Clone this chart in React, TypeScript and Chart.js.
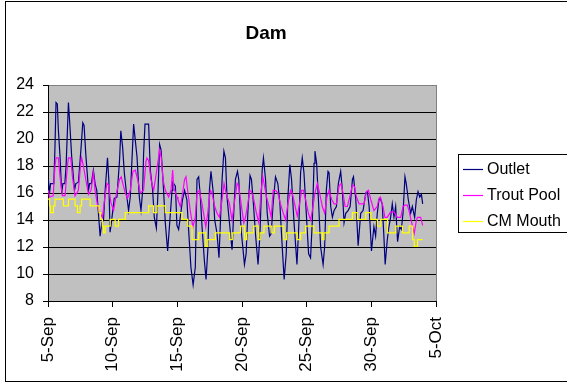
import { useEffect, useRef } from "react";
import { Chart, registerables } from "chart.js";

Chart.register(...registerables);

const TITLE = "Dam";
const SERIES_NAMES = ["Outlet", "Trout Pool", "CM Mouth"];
const SERIES_COLORS = ["#000080", "#FF00FF", "#FFFF00"];
const X_TICK_LABELS = ["5-Sep", "10-Sep", "15-Sep", "20-Sep", "25-Sep", "30-Sep", "5-Oct"];
const X_MIN = 0;
const X_MAX = 30;
const X_STEP = 5;
const Y_MIN = 8;
const Y_MAX = 24;
const Y_STEP = 2;

// [days after 5-Sep, temperature]
const outletReadings: [number, number][] = [
  [0.03, 17.0], [0.12, 16.0], [0.2, 16.7], [0.45, 16.7], [0.54, 19.4], [0.62, 22.7], [0.72, 22.6], [0.8, 20.7],
  [0.93, 18.7], [1.06, 16.0], [1.15, 16.7], [1.3, 16.7], [1.4, 18.0], [1.58, 22.7], [1.68, 21.2], [1.83, 18.7],
  [2.05, 16.2], [2.15, 16.7], [2.35, 16.8], [2.56, 19.4], [2.69, 21.2], [2.79, 21.0], [2.92, 18.9], [3.13, 16.2],
  [3.22, 16.7], [3.35, 16.7], [3.51, 17.7], [3.64, 16.7], [3.77, 16.2], [3.9, 14.5], [4.03, 12.8], [4.16, 13.8],
  [4.29, 14.0], [4.42, 16.2], [4.6, 18.6], [4.7, 17.0], [4.8, 13.1], [4.9, 13.8], [5.12, 15.6], [5.33, 15.7],
  [5.53, 18.4], [5.63, 20.6], [5.77, 19.4], [5.9, 17.5], [6.1, 15.7], [6.23, 14.7], [6.36, 15.7], [6.49, 18.4],
  [6.62, 21.1], [6.75, 19.9], [6.88, 18.7], [7.06, 15.7], [7.19, 14.7], [7.32, 16.2], [7.39, 18.9], [7.5, 21.1],
  [7.78, 21.1], [7.91, 17.7], [8.09, 16.2], [8.22, 14.2], [8.38, 13.4], [8.51, 16.2], [8.63, 19.6], [8.74, 19.2],
  [8.89, 17.0], [9.07, 13.8], [9.25, 11.7], [9.41, 13.8], [9.59, 16.2], [9.65, 16.8], [9.85, 16.5], [9.97, 13.6],
  [10.1, 13.3], [10.2, 14.0], [10.4, 15.5], [10.56, 16.2], [10.74, 15.5], [10.87, 13.3], [11.05, 10.5], [11.22, 9.2],
  [11.39, 10.5], [11.52, 17.0], [11.65, 17.2], [11.78, 15.7], [11.91, 13.5], [12.09, 11.0], [12.22, 9.6], [12.37, 12.0],
  [12.48, 16.2], [12.6, 17.6], [12.76, 16.2], [12.89, 14.0], [13.07, 13.0], [13.22, 11.2], [13.33, 13.8], [13.46, 17.0],
  [13.6, 19.1], [13.72, 18.6], [13.84, 15.7], [14.03, 13.8], [14.23, 11.8], [14.36, 14.5], [14.49, 17.0], [14.65, 17.6],
  [14.75, 17.0], [14.93, 13.3], [15.19, 10.7], [15.32, 11.5], [15.45, 14.5], [15.62, 17.3], [15.73, 17.0], [15.86, 15.5],
  [16.04, 13.0], [16.24, 10.7], [16.38, 12.8], [16.56, 17.7], [16.66, 18.6], [16.82, 17.0], [16.95, 14.5], [17.13, 12.8],
  [17.26, 13.0], [17.39, 15.0], [17.59, 17.2], [17.77, 16.7], [17.93, 15.2], [18.11, 12.0], [18.26, 9.6], [18.42, 11.5],
  [18.55, 15.7], [18.7, 18.1], [18.83, 17.0], [19.01, 14.0], [19.25, 10.7], [19.4, 13.8], [19.53, 17.5], [19.66, 18.6],
  [19.79, 17.5], [19.97, 14.5], [20.15, 11.5], [20.3, 11.2], [20.44, 14.0], [20.57, 18.2], [20.64, 19.1], [20.77, 18.2],
  [20.9, 15.7], [21.08, 12.0], [21.27, 10.7], [21.39, 12.0], [21.52, 16.2], [21.65, 17.6], [21.73, 17.5], [21.86, 15.0],
  [21.99, 14.2], [22.12, 14.7], [22.3, 15.0], [22.45, 16.7], [22.63, 17.6], [22.76, 16.2], [22.89, 13.8], [23.02, 14.5],
  [23.2, 14.7], [23.36, 15.0], [23.54, 17.0], [23.62, 17.2], [23.8, 15.5], [23.98, 12.1], [24.18, 14.5], [24.36, 14.7],
  [24.57, 16.0], [24.7, 16.1], [24.83, 15.0], [25.01, 11.7], [25.2, 13.5], [25.33, 12.8], [25.46, 14.5], [25.59, 15.5],
  [25.68, 15.6], [25.84, 15.2], [25.97, 12.8], [26.07, 10.7], [26.23, 12.5], [26.36, 13.5], [26.49, 14.2], [26.62, 15.2],
  [26.75, 14.2], [26.88, 15.0], [27.03, 12.4], [27.19, 13.5], [27.32, 13.3], [27.45, 14.5], [27.6, 17.2], [27.7, 16.7],
  [27.86, 15.5], [28.04, 14.5], [28.17, 15.0], [28.35, 14.2], [28.48, 15.5], [28.61, 16.1], [28.74, 15.7], [28.87, 15.9],
  [28.97, 15.2],
];

const troutPoolReadings: [number, number][] = [
  [0.03, 16.2], [0.12, 15.7], [0.4, 15.8], [0.54, 18.0], [0.62, 18.6], [0.8, 18.6], [0.93, 17.2], [1.11, 15.8],
  [1.32, 15.8], [1.5, 18.0], [1.58, 18.6], [1.76, 18.6], [1.89, 17.2], [2.09, 15.8], [2.35, 16.2], [2.53, 18.2],
  [2.6, 18.6], [2.74, 18.0], [2.92, 17.0], [3.13, 15.9], [3.33, 16.2], [3.51, 17.5], [3.64, 16.2], [3.85, 15.0],
  [4.03, 14.5], [4.21, 14.2], [4.37, 15.5], [4.55, 16.7], [4.68, 16.6], [4.86, 15.3], [5.07, 14.7], [5.28, 15.9],
  [5.53, 17.0], [5.66, 17.2], [5.79, 16.7], [5.97, 16.0], [6.15, 15.6], [6.36, 16.2], [6.57, 17.6], [6.75, 17.7],
  [6.93, 17.0], [7.14, 16.0], [7.39, 16.2], [7.57, 18.3], [7.65, 18.6], [7.78, 18.4], [7.96, 17.0], [8.17, 16.2],
  [8.38, 17.5], [8.56, 18.7], [8.63, 19.2], [8.76, 18.6], [8.89, 17.0], [9.07, 16.2], [9.33, 15.7], [9.51, 16.2],
  [9.64, 17.7], [9.72, 16.4], [9.98, 15.7], [10.05, 15.5], [10.23, 15.0], [10.41, 16.0], [10.56, 17.0], [10.67, 17.2],
  [10.82, 16.0], [11.0, 14.7], [11.2, 13.5], [11.39, 14.2], [11.52, 16.0], [11.7, 16.2], [11.91, 15.2], [12.2, 13.5],
  [12.35, 14.5], [12.55, 16.2], [12.68, 16.0], [12.89, 15.0], [13.07, 14.5], [13.25, 14.2], [13.46, 15.5], [13.61, 16.7],
  [13.72, 16.2], [13.87, 15.7], [14.03, 15.2], [14.23, 14.0], [14.44, 15.5], [14.62, 16.7], [14.75, 16.5], [14.93, 15.2],
  [15.14, 13.8], [15.27, 14.2], [15.45, 15.2], [15.6, 16.2], [15.73, 16.1], [15.91, 15.5], [16.12, 14.5], [16.3, 13.8],
  [16.48, 16.2], [16.61, 17.2], [16.74, 16.5], [16.9, 15.7], [17.08, 15.0], [17.26, 14.2], [17.41, 16.2], [17.59, 16.2],
  [17.77, 16.0], [17.98, 15.2], [18.19, 14.5], [18.37, 14.0], [18.55, 15.2], [18.76, 16.2], [18.88, 16.0], [19.07, 15.2],
  [19.27, 14.3], [19.45, 15.2], [19.61, 16.2], [19.74, 16.2], [19.92, 15.5], [20.13, 14.5], [20.31, 14.0], [20.49, 15.0],
  [20.64, 16.0], [20.82, 16.7], [21.0, 16.0], [21.21, 15.0], [21.39, 14.5], [21.57, 15.7], [21.73, 16.2], [21.94, 15.5],
  [22.12, 15.2], [22.3, 15.2], [22.5, 16.5], [22.66, 16.7], [22.81, 16.0], [22.97, 15.0], [23.15, 15.0], [23.33, 15.7],
  [23.54, 16.6], [23.69, 16.5], [23.85, 15.7], [24.05, 15.2], [24.26, 15.2], [24.44, 15.2], [24.62, 16.1], [24.78, 16.2],
  [24.96, 15.5], [25.2, 14.7], [25.46, 15.0], [25.59, 15.6], [25.71, 15.7], [25.9, 15.0], [26.05, 14.2], [26.23, 14.2],
  [26.49, 14.6], [26.75, 14.6], [27.01, 14.2], [27.27, 14.2], [27.45, 15.0], [27.6, 15.1], [27.78, 15.1], [27.91, 14.7],
  [28.12, 13.8], [28.32, 13.0], [28.45, 13.8], [28.56, 14.2], [28.81, 14.2], [28.97, 13.6],
];

const cmMouthReadings: [number, number][] = [
  [0, 15.55], [0.12, 15.05], [0.2, 14.55], [0.42, 15.05], [0.54, 15.55], [1.19, 15.05], [1.58, 15.55], [2.09, 15.05],
  [2.28, 14.55], [2.48, 15.05], [2.6, 15.55], [3.26, 15.05], [3.95, 14.55], [4.05, 14.05], [4.2, 13.55], [4.3, 13.05],
  [4.42, 13.55], [4.81, 14.05], [5.19, 13.55], [5.45, 14.05], [5.97, 14.55], [7.78, 15.05], [8.16, 14.55], [8.42, 15.05],
  [9.07, 14.55], [10.36, 14.05], [10.8, 13.55], [11.14, 12.55], [11.65, 13.05], [12.2, 12.05], [12.35, 12.55], [12.94, 13.05],
  [14.05, 12.55], [14.25, 13.05], [14.88, 13.55], [15.2, 12.55], [15.35, 13.05], [15.9, 13.55], [16.25, 12.55], [16.4, 13.05],
  [16.7, 13.55], [17.3, 13.05], [17.5, 13.55], [18.24, 12.55], [18.45, 13.05], [19.27, 12.55], [19.53, 13.05], [19.92, 13.55],
  [20.56, 13.05], [21.21, 12.55], [21.34, 13.05], [21.73, 13.55], [22.5, 14.05], [23.54, 14.55], [23.92, 14.05], [24.57, 14.55],
  [24.96, 14.05], [25.47, 13.55], [25.73, 14.05], [26.25, 13.05], [26.89, 13.55], [27.41, 13.05], [27.93, 13.55], [28.19, 12.55],
  [28.32, 12.05], [28.57, 12.55], [28.96, 12.55],
];

const FONT = "'Liberation Sans', Arial, sans-serif";

const toPoints = (rows: [number, number][]) => rows.map(([x, y]) => ({ x, y }));

const decorPlugin = {
  id: "decor",
  beforeDraw(chart: any) {
    const { ctx, chartArea: a } = chart;
    ctx.save();
    ctx.fillStyle = "#ffffff";
    ctx.fillRect(0, 0, chart.width, chart.height);
    ctx.fillStyle = "#C0C0C0";
    ctx.fillRect(a.left, a.top, a.right - a.left, a.bottom - a.top);
    ctx.restore();
  },
  afterDraw(chart: any) {
    const { ctx, chartArea: a } = chart;
    ctx.save();
    // plot area right border
    ctx.strokeStyle = "#808080";
    ctx.lineWidth = 1;
    ctx.beginPath();
    ctx.moveTo(Math.round(a.right) + 0.5, a.top);
    ctx.lineTo(Math.round(a.right) + 0.5, a.bottom);
    ctx.stroke();
    // outer frame
    ctx.strokeStyle = "#000";
    ctx.strokeRect(5.5, 1.5, 620, 380);
    // title
    ctx.fillStyle = "#000";
    ctx.font = `bold 19px ${FONT}`;
    ctx.textAlign = "center";
    ctx.textBaseline = "middle";
    ctx.fillText(TITLE, 266, 34);
    // legend
    const lx = 458.5;
    const ly = 154.5;
    ctx.strokeRect(lx, ly, 140, 78);
    ctx.font = `16px ${FONT}`;
    ctx.textAlign = "left";
    chart.data.datasets.forEach((ds: any, i: number) => {
      const y = 169 + i * 26;
      ctx.strokeStyle = ds.borderColor;
      ctx.lineWidth = 1.2;
      ctx.beginPath();
      ctx.moveTo(463, y + 0.5);
      ctx.lineTo(483, y + 0.5);
      ctx.stroke();
      ctx.fillStyle = "#000";
      ctx.fillText(ds.label, 487, y + 1);
    });
    ctx.restore();
  },
};

export default function App() {
  const ref = useRef<HTMLCanvasElement | null>(null);
  useEffect(() => {
    if (!ref.current) return;
    const series = [outletReadings, troutPoolReadings, cmMouthReadings];
    const chart = new Chart(ref.current, {
      type: "line",
      data: {
        datasets: series.map((rows, i) => ({
          label: SERIES_NAMES[i],
          data: toPoints(rows),
          borderColor: SERIES_COLORS[i],
          backgroundColor: SERIES_COLORS[i],
          borderWidth: 1.2,
          pointRadius: 0,
          tension: 0,
          fill: false,
          stepped: i === 2 ? "before" : false,
          order: 3 - i,
        })),
      } as any,
      options: {
        animation: false,
        responsive: false,
        devicePixelRatio: 1,
        layout: { padding: { top: 85, right: 131, bottom: 0, left: 0 } },
        plugins: {
          legend: { display: false },
          title: { display: false },
          tooltip: { enabled: false },
        },
        scales: {
          x: {
            type: "linear",
            min: X_MIN,
            max: X_MAX,
            afterFit: (s: any) => {
              s.height = 82;
            },
            ticks: {
              stepSize: X_STEP,
              autoSkip: false,
              maxRotation: 90,
              minRotation: 90,
              padding: 10,
              color: "#000",
              font: { family: FONT, size: 17 },
              callback: (v: any) => X_TICK_LABELS[Math.round((Number(v) - X_MIN) / X_STEP)] ?? "",
            },
            grid: {
              drawOnChartArea: false,
              drawTicks: true,
              tickLength: 6,
              tickColor: "#000",
              color: "#000",
            },
            border: { display: true, color: "#000", width: 1 },
          },
          y: {
            type: "linear",
            min: Y_MIN,
            max: Y_MAX,
            afterFit: (s: any) => {
              s.width = 48;
            },
            ticks: {
              stepSize: Y_STEP,
              padding: 9,
              color: "#000",
              font: { family: FONT, size: 16 },
            },
            grid: {
              drawOnChartArea: true,
              drawTicks: true,
              tickLength: 5,
              tickColor: "#000",
              color: (c: any) => (c.tick && c.tick.value === Y_MAX ? "#808080" : "#000"),
              lineWidth: 1,
            },
            border: { display: true, color: "#000", width: 1 },
          },
        },
      } as any,
      plugins: [decorPlugin],
    });
    return () => chart.destroy();
  }, []);
  return (
    <div style={{ position: "absolute", left: 0, top: 0, width: 567, height: 383 }}>
      <canvas ref={ref} width={567} height={383} style={{ display: "block" }} />
    </div>
  );
}
